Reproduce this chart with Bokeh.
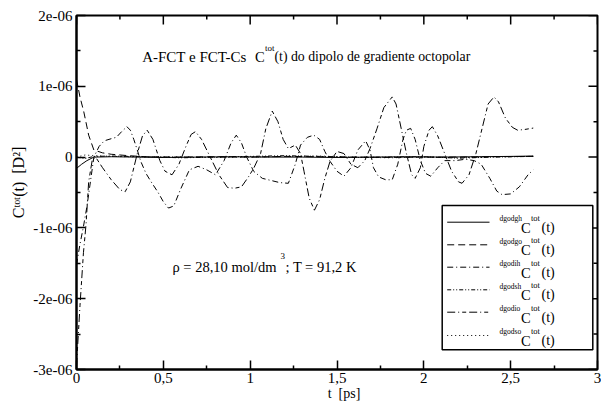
from bokeh.plotting import figure
from bokeh.models import FixedTicker, LinearAxis, Label, Range1d
from bokeh.embed import file_html
from bokeh.resources import INLINE

SCALE = 1e-7  # values below are in units of 1e-7 D^2

t_gh = [0, 0.03, 0.06, 0.1, 0.2, 0.35, 0.5, 0.7, 0.9, 1.1, 1.3, 1.5, 1.7, 1.9, 2.1, 2.3, 2.5, 2.63]
c_gh = [-1.6, -1.0, -0.5, 0.0, 0.05, 0.0, -0.05, 0.0, 0.05, 0.0, 0.0, -0.05, 0.0, 0.05, 0.0, 0.05, 0.1, 0.15]

t_go = [0, 0.02, 0.042, 0.07, 0.1, 0.15, 0.2, 0.3, 0.4, 0.6, 0.8, 1.0, 1.2, 1.4, 1.6, 1.8, 2.0, 2.2, 2.4, 2.63]
c_go = [11.0, 8.5, 6.4, 3.1, 1.0, 0.6, 0.4, 0.2, 0.05, 0.0, 0.05, 0.0, 0.1, 0.05, 0.0, -0.05, 0.0, 0.0, 0.05, 0.1]

t_ih = [0, 0.02, 0.04, 0.06, 0.08, 0.1, 0.13, 0.16, 0.2, 0.23, 0.26, 0.29, 0.31, 0.33, 0.35,
        0.37, 0.4, 0.43, 0.47, 0.5, 0.53, 0.56, 0.6, 0.65, 0.7, 0.75, 0.8, 0.85, 0.89, 0.92,
        0.95, 0.98, 1.02, 1.07, 1.12, 1.17, 1.22, 1.26, 1.29, 1.33, 1.366, 1.4, 1.43, 1.46, 1.5,
        1.54, 1.58, 1.62, 1.665, 1.69, 1.71, 1.74, 1.78, 1.818, 1.85, 1.88, 1.9, 1.924, 1.95, 1.98,
        2.01, 2.04, 2.08, 2.12, 2.18, 2.24, 2.29, 2.33, 2.38, 2.42, 2.45, 2.5, 2.55, 2.6, 2.63]
c_ih = [-15.2, -12.3, -9.8, -7.0, -3.5, 0.0, 1.5, 2.3, 2.6, 2.8, 3.6, 4.3, 3.8, 2.5, 1.0,
        -0.6, -2.3, -3.5, -5.0, -6.3, -7.2, -6.9, -4.5, -1.8, -1.3, -1.8, -2.5, -0.5, 2.0, 3.1,
        2.0, 0.0, -2.0, -3.0, -3.3, -3.6, -3.7, -1.0, 1.7, 2.8, 3.1, 2.5, 0.8, -0.6, -2.0,
        -2.7, -1.5, 1.0, 2.3, 1.0, -1.5, -2.8, -3.2, -3.2, -1.0, 2.5, 3.8, 4.06, 2.5, -0.5,
        -2.3, -2.7, -1.5, -0.5, -0.5, -0.3, -0.5, -1.0, -3.0, -4.8, -5.3, -5.2, -4.2, -2.5, -1.8]

t_sh = [0, 0.05, 0.1, 0.2, 0.4, 0.6, 0.8, 1.0, 1.2, 1.4, 1.6, 1.8, 2.0, 2.2, 2.4, 2.63]
c_sh = [0.0, -0.2, 0.1, 0.15, 0.05, -0.1, 0.0, 0.1, 0.2, 0.1, -0.05, 0.0, 0.05, -0.15, 0.0, 0.1]

t_io = [0, 0.02, 0.04, 0.055, 0.07, 0.09, 0.11, 0.15, 0.2, 0.25, 0.28, 0.31, 0.35, 0.38, 0.407,
        0.44, 0.48, 0.51, 0.55, 0.59, 0.63, 0.66, 0.685, 0.72, 0.77, 0.82, 0.87, 0.91, 0.95, 0.99,
        1.02, 1.06, 1.09, 1.127, 1.16, 1.19, 1.22, 1.26, 1.29, 1.31, 1.34, 1.37, 1.40, 1.43, 1.46,
        1.50, 1.54, 1.58, 1.62, 1.66, 1.69, 1.73, 1.77, 1.818, 1.84, 1.87, 1.9, 1.93, 1.95, 1.98,
        2.0, 2.03, 2.049, 2.08, 2.12, 2.16, 2.2, 2.22, 2.26, 2.3, 2.34, 2.37, 2.404, 2.43, 2.47,
        2.51, 2.54, 2.58, 2.63]
c_io = [-29.5, -21.0, -13.5, -9.5, -3.5, -0.5, 0.0, -1.5, -3.2, -4.6, -4.9, -3.5, 0.5, 3.0, 3.8,
        2.5, -0.5, -2.0, -2.5, -1.0, 1.5, 3.2, 3.6, 2.5, 0.0, -2.5, -4.3, -4.4, -4.2, -2.8,
        -1.6, 0.5, 4.0, 6.5, 5.0, 2.5, 1.2, 1.7, 0.5, -2.0, -5.8, -7.5, -6.0, -3.0, -0.6,
        0.8, 0.5, -1.0, -1.5, -0.5, 1.2, 4.0, 7.0, 8.5, 7.5, 4.0, 0.5, -2.5, -3.0, -1.5,
        1.5, 3.8, 4.3, 3.0, 0.5, -2.0, -3.5, -3.7, -2.5, 0.5, 4.5, 7.5, 8.5, 7.8, 5.5,
        4.2, 3.8, 3.9, 4.1]

t_so = [0, 0.05, 0.1, 0.2, 0.4, 0.6, 0.8, 1.0, 1.2, 1.4, 1.6, 1.8, 2.0, 2.2, 2.4, 2.63]
c_so = [0.0, 0.3, 0.2, 0.1, 0.0, 0.05, -0.05, 0.0, 0.1, 0.15, 0.0, -0.1, 0.0, -0.1, 0.05, 0.1]

series_names = ["dgodgh", "dgodgo", "dgodih", "dgodsh", "dgodio", "dgodso"]
series_t = [t_gh, t_go, t_ih, t_sh, t_io, t_so]
series_c = [c_gh, c_go, c_ih, c_sh, c_io, c_so]
dashes = ["solid", "7 4", "6 3 1 3", "4 2 1 2 1 2", "8 3 1 3 4 3", "1 3"]

x_ticks = [0, 0.5, 1, 1.5, 2, 2.5, 3]
x_tick_labels = ["0", "0,5", "1", "1,5", "2", "2,5", "3"]
y_ticks = [-3e-6, -2e-6, -1e-6, 0, 1e-6, 2e-6]
y_tick_labels = ["-3e-06", "-2e-06", "-1e-06", "0", "1e-06", "2e-06"]
x_minor = [0.25, 0.75, 1.25, 1.75, 2.25, 2.75]
y_minor = [-2.5e-6, -1.5e-6, -0.5e-6, 0.5e-6, 1.5e-6]

XMIN, XMAX, YMIN, YMAX = 0, 3, -3e-6, 2e-6
# frame location on the page (px)
FL, FR, FT, FB = 76, 597, 15, 369
W, H = 601, 403

FONT = "Liberation Serif"
NB = "\u00a0"

p = figure(width=W, height=H, output_backend="svg", toolbar_location=None,
           x_range=Range1d(XMIN, XMAX), y_range=Range1d(YMIN, YMAX),
           min_border_left=FL, min_border_top=FT,
           min_border_right=W - FR, min_border_bottom=H - FB,
           x_axis_location=None, y_axis_location=None)
p.grid.visible = False
p.outline_line_color = "black"
p.outline_line_width = 2
p.background_fill_color = "white"
p.border_fill_color = "white"


def style_axis(ax, ticks, minor, labels):
    ax.ticker = FixedTicker(ticks=ticks, minor_ticks=minor)
    ax.axis_line_width = 2
    ax.axis_line_color = "black"
    ax.major_tick_in = 9
    ax.major_tick_out = 0
    ax.minor_tick_in = 4
    ax.minor_tick_out = 0
    ax.major_tick_line_width = 1.5
    ax.minor_tick_line_width = 1.5
    ax.major_label_text_font = FONT
    ax.major_label_text_font_size = "15px"
    ax.major_label_text_color = "black"
    ax.major_label_standoff = 5
    ax.major_label_overrides = labels
    ax.axis_label_text_font = FONT
    ax.axis_label_text_font_style = "normal"
    ax.axis_label_text_color = "black"


xb = LinearAxis(axis_label=NB * 4 + "t" + NB * 2 + "[ps]")
style_axis(xb, x_ticks, x_minor, {t: l for t, l in zip(x_ticks, x_tick_labels)})
xb.major_label_standoff = 3
xb.axis_label_text_font_size = "14px"
xb.axis_label_standoff = 0
p.add_layout(xb, "below")
yl = LinearAxis(axis_label=NB * 5 + "C\u1d57\u1d52\u1d57(t)" + NB * 2 + "[D\u00b2]")
style_axis(yl, y_ticks, y_minor, {t: l for t, l in zip(y_ticks, y_tick_labels)})
yl.major_label_standoff = 4
yl.axis_label_text_font_size = "16px"
yl.axis_label_standoff = 3
p.add_layout(yl, "left")

PX_X = (XMAX - XMIN) / (FR - FL)   # data units per pixel
PX_Y = (YMAX - YMIN) / (FB - FT)

# mirrored inward ticks on the top and right edges
p.segment(x0=x_ticks, y0=[YMAX] * len(x_ticks), x1=x_ticks, y1=[YMAX - 9 * PX_Y] * len(x_ticks),
          line_color="black", line_width=1.5)
p.segment(x0=x_minor, y0=[YMAX] * len(x_minor), x1=x_minor, y1=[YMAX - 4 * PX_Y] * len(x_minor),
          line_color="black", line_width=1.5)
p.segment(x0=[XMAX] * len(y_ticks), y0=y_ticks, x1=[XMAX - 9 * PX_X] * len(y_ticks), y1=y_ticks,
          line_color="black", line_width=1.5)
p.segment(x0=[XMAX] * len(y_minor), y0=y_minor, x1=[XMAX - 4 * PX_X] * len(y_minor), y1=y_minor,
          line_color="black", line_width=1.5)

for ts, cs, d in zip(series_t, series_c, dashes):
    p.line(ts, [c * SCALE for c in cs], line_color="black", line_width=1, line_dash=d)


def DX(px):
    return XMIN + (px - FL) * PX_X


def DY(py):
    return YMAX - (py - FT) * PX_Y


def txt(s, px, py, size):
    p.add_layout(Label(x=DX(px), y=DY(py), text=s, text_font=FONT, text_font_size=f"{size}px",
                       text_color="black", text_baseline="alphabetic", text_align="left"))


# legend box
p.quad(left=[DX(441.7)], right=[DX(592.3)], top=[DY(205)], bottom=[DY(349.3)],
       fill_color="white", line_color="black", line_width=1.5)
row_y = [221.7, 244.3, 266.7, 289.3, 311.7, 335.0]
for name, d, ry in zip(series_names, dashes, row_y):
    p.line([DX(446.7), DX(489)], [DY(ry), DY(ry)], line_color="black", line_width=1, line_dash=d)
    txt(name, 499, ry - 3.7, 7.5)
    txt("C", 520.5, ry + 5.3, 14.5)
    txt("tot", 530.5, ry - 4.5, 8.5)
    txt("(t)", 541, ry + 5.0, 14)

# title inside the plot
txt("A-FCT e FCT-Cs", 141.7, 56, 15)
txt("C", 254.5, 56, 14.5)
txt("tot", 264.5, 47, 9)
txt("(t) do dipolo de gradiente octopolar", 274, 56, 13.8)

# state text
txt("\u03c1 = 28,10 mol/dm", 172, 266.7, 14.5)
txt("3", 280, 255, 9)
txt("; T = 91,2 K", 285, 266.7, 14.5)

open("out.html", "w").write(file_html(p, INLINE))
